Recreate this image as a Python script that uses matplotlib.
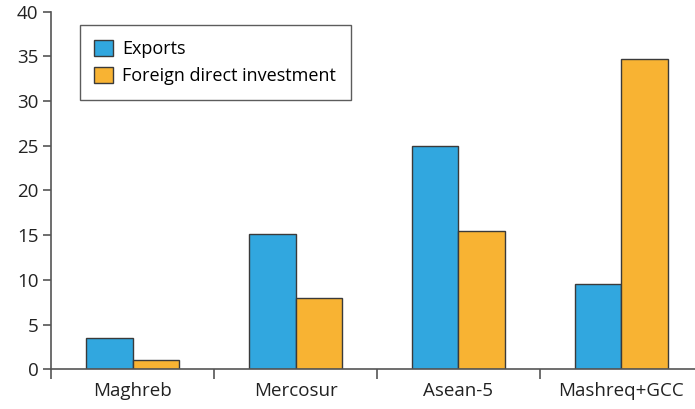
import matplotlib.pyplot as plt
import numpy as np

# Datos
categorias = ["Maghreb", "Mercosur", "Asean-5", "Mashreq+GCC"]
exportaciones = [3.5, 15.1, 25.0, 9.5]
ied = [1.05, 8.0, 15.5, 34.7]

plt.rcParams['font.family'] = ['Open Sans', 'DejaVu Sans']

fig = plt.figure(figsize=(6.95, 4.09), dpi=100)
# el eje x sigue un poco más allá del borde derecho
ax = fig.add_axes([51/695, 39.7/409, 652/695, 357.6/409])

x = np.arange(len(categorias))
ancho = 0.288
ax.bar(x - ancho/2, exportaciones, ancho, color='#31a7df', edgecolor='#3a3a3a',
       linewidth=1.0, label='Exports')
ax.bar(x + ancho/2, ied, ancho, color='#f8b333', edgecolor='#3a3a3a',
       linewidth=1.0, label='Foreign direct investment')

ax.set_xlim(-0.5, 3.5)
ax.set_ylim(0, 40)
ax.set_yticks(range(0, 41, 5))
ax.set_xticks(x)
ax.set_xticklabels(categorias)
ax.set_xticks(np.arange(-0.5, 4, 1), minor=True)

for lado in ['top', 'right']:
    ax.spines[lado].set_visible(False)
for lado in ['left', 'bottom']:
    ax.spines[lado].set_color('#555555')
    ax.spines[lado].set_linewidth(1.2)

ax.tick_params(axis='y', length=6, width=1.2, color='#555555', labelsize=13.5,
               labelcolor='#222222', pad=3)
ax.tick_params(axis='x', which='major', length=0, labelsize=13.5,
               labelcolor='#222222', pad=9)
ax.tick_params(axis='x', which='minor', length=7, width=1.2, color='#555555',
               direction='out')

leg = ax.legend(loc='upper left', bbox_to_anchor=(29/652, 1 - 13.5/357.6),
                fontsize=13, frameon=True, fancybox=False, edgecolor='#333333',
                handlelength=1.0, handleheight=1.0, borderpad=0.8,
                labelspacing=0.5, handletextpad=0.55, borderaxespad=0)
leg.get_frame().set_linewidth(1.0)

fig.savefig('out.png', dpi=100)
